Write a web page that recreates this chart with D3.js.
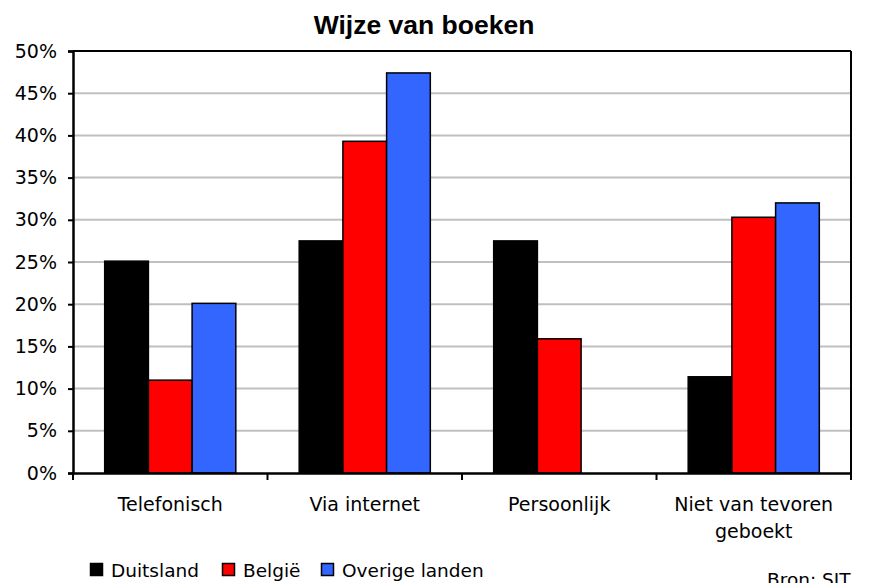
<!DOCTYPE html>
<html>
<head>
<meta charset="utf-8">
<script src="https://cdn.jsdelivr.net/npm/d3@7"></script>
<style>
  body { margin: 0; background: #fff; }
  .axisText { font-family: "DejaVu Sans", Tahoma, sans-serif; font-size: 19px; fill: #000; }
  .legendText { font-family: "DejaVu Sans", Tahoma, sans-serif; font-size: 18.5px; fill: #000; }
</style>
</head>
<body>
<div id="chart"></div>
<script>
// data
var categories = ["Telefonisch", "Via internet", "Persoonlijk", "Niet van tevoren|geboekt"];
var seriesNames = ["Duitsland", "België", "Overige landen"];
var seriesColors = ["#000000", "#ff0000", "#3366ff"];
var duitsland = [25.1, 27.5, 27.5, 11.4];
var belgie = [11.0, 39.3, 15.9, 30.3];
var overige = [20.1, 47.4, 0, 32.0];
var yTicks = [0, 5, 10, 15, 20, 25, 30, 35, 40, 45, 50];

var seriesValues = [duitsland, belgie, overige];

// svg container
var svgWidth = 877;
var svgHeight = 583;

var margin = { top: 51, right: 26, bottom: 110, left: 73 };
var width = svgWidth - margin.left - margin.right;
var height = svgHeight - margin.top - margin.bottom;

var svg = d3.select("#chart")
  .append("svg")
  .attr("width", svgWidth)
  .attr("height", svgHeight);

var chartGroup = svg.append("g")
  .attr("transform", `translate(${margin.left}, ${margin.top})`);

// scales
var x0 = d3.scaleBand()
  .domain(categories)
  .range([0, width])
  .paddingInner(0)
  .paddingOuter(0);

var x1 = d3.scaleBand()
  .domain(seriesNames)
  .range([0, x0.bandwidth()])
  .paddingOuter(0.725)
  .paddingInner(0);

var yScale = d3.scaleLinear()
  .domain([0, 50])
  .range([height, 0]);

// gridlines
chartGroup.append("g")
  .selectAll("line")
  .data(yTicks.filter(d => d > 0 && d < 50))
  .enter()
  .append("line")
  .attr("x1", 0)
  .attr("x2", width)
  .attr("y1", d => yScale(d))
  .attr("y2", d => yScale(d))
  .attr("stroke", "#c0c0c0")
  .attr("stroke-width", 2);

// top and right border of plot
chartGroup.append("line")
  .attr("x1", 0).attr("x2", width)
  .attr("y1", 0).attr("y2", 0)
  .attr("stroke", "#000").attr("stroke-width", 2);
chartGroup.append("line")
  .attr("x1", width).attr("x2", width)
  .attr("y1", 0).attr("y2", height)
  .attr("stroke", "#000").attr("stroke-width", 2);

// bars
var rows = [];
categories.forEach(function(c, i) {
  seriesNames.forEach(function(s, j) {
    rows.push({ cat: c, series: s, value: seriesValues[j][i], color: seriesColors[j] });
  });
});

chartGroup.selectAll("rect.bar")
  .data(rows.filter(d => d.value > 0))
  .enter()
  .append("rect")
  .attr("class", "bar")
  .attr("x", d => x0(d.cat) + x1(d.series))
  .attr("y", d => yScale(d.value))
  .attr("width", x1.bandwidth())
  .attr("height", d => height - yScale(d.value))
  .attr("fill", d => d.color)
  .attr("stroke", "#000")
  .attr("stroke-width", 1.5);

// y axis
var leftAxis = d3.axisLeft(yScale)
  .tickValues(yTicks)
  .tickSize(5)
  .tickPadding(11)
  .tickFormat(d => d + "%");

var yAxis = chartGroup.append("g").call(leftAxis);
yAxis.attr("font-size", null).attr("font-family", null);
yAxis.select(".domain").attr("stroke-width", 2.5);
yAxis.selectAll(".tick line").attr("stroke-width", 2);
yAxis.selectAll("text")
  .attr("class", "axisText");

// x axis
var bottomAxis = d3.axisBottom(x0)
  .tickSize(0)
  .tickFormat("");

var xAxis = chartGroup.append("g")
  .attr("transform", `translate(0, ${height})`)
  .call(bottomAxis);
xAxis.select(".domain").attr("stroke-width", 2.5);

// category boundary ticks
chartGroup.append("g")
  .selectAll("line")
  .data(d3.range(categories.length + 1))
  .enter()
  .append("line")
  .attr("x1", i => i * x0.step())
  .attr("x2", i => i * x0.step())
  .attr("y1", height)
  .attr("y2", height + 7)
  .attr("stroke", "#000")
  .attr("stroke-width", 2);

// category labels
categories.forEach(function(c) {
  var lines = c.split("|");
  var t = chartGroup.append("text")
    .attr("class", "axisText")
    .attr("text-anchor", "middle")
    .attr("x", x0(c) + x0.bandwidth() / 2)
    .attr("y", height + 38);
  lines.forEach(function(l, k) {
    t.append("tspan")
      .attr("x", x0(c) + x0.bandwidth() / 2)
      .attr("dy", k === 0 ? 0 : 27)
      .text(l);
  });
});

// title
svg.append("text")
  .attr("x", 424)
  .attr("y", 34)
  .attr("text-anchor", "middle")
  .attr("font-family", "'Liberation Sans', Arial, sans-serif")
  .attr("font-weight", "bold")
  .attr("font-size", "26.5px")
  .text("Wijze van boeken");

// legend
var legendX = [90, 222, 321];
var legend = svg.append("g");
seriesNames.forEach(function(s, j) {
  legend.append("rect")
    .attr("x", legendX[j] + 0.5)
    .attr("y", 563.5)
    .attr("width", 12)
    .attr("height", 12)
    .attr("fill", seriesColors[j])
    .attr("stroke", "#000")
    .attr("stroke-width", 1.5);
  legend.append("text")
    .attr("class", "legendText")
    .attr("x", legendX[j] + 21)
    .attr("y", 577)
    .text(s);
});

// source
svg.append("text")
  .attr("class", "legendText")
  .attr("x", 767)
  .attr("y", 586)
  .text("Bron: SIT");
</script>
</body>
</html>
